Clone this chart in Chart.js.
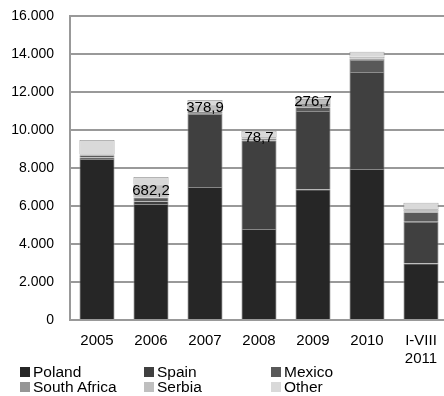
<!DOCTYPE html>
<html>
<head>
<meta charset="utf-8">
<script src="https://cdn.jsdelivr.net/npm/chart.js@4/dist/chart.umd.min.js"></script>
<style>
    html, body { margin: 0; padding: 0; background: #fff; overflow: hidden; }
    #wrap { position: relative; width: 448px; height: 396px; }
    #legend {
        position: absolute; left: 20px; top: 364px;
        display: grid; grid-template-columns: 124px 127px 120px;
        font: 15.5px "Liberation Sans", Arial, sans-serif; line-height: 15px; color: #000;
    }
    #legend span.box { display: inline-block; width: 10px; height: 10px; margin-right: 3px; }
</style>
</head>
<body>
<div id="wrap">
    <canvas id="chart" width="448" height="396"></canvas>
    <div id="legend"></div>
</div>
<script>
const years = ['2005', '2006', '2007', '2008', '2009', '2010', ['I-VIII', '2011']];

const poland      = [8470, 6100, 7000, 4790, 6877, 7950, 2980];
const spain       = [80, 150, 3850, 4660, 4123, 5100, 2190];
const mexico      = [120, 200, 118, 87, 200, 640, 500];
const southAfrica = [40, 0, 0, 0, 163, 70, 60];
const serbia      = [30, 682.2, 378.9, 78.7, 276.7, 100, 100];
const other       = [740, 394, 232, 347, 100, 260, 345];

const valueLabels = ['', '682,2', '378,9', '78,7', '276,7', '', ''];

const seriesNames = ['Poland', 'Spain', 'Mexico', 'South Africa', 'Serbia', 'Other'];
const seriesColors = ['#262626', '#404040', '#595959', '#969696', '#bfbfbf', '#d9d9d9'];
const seriesData = [poland, spain, mexico, southAfrica, serbia, other];

const font = 'Liberation Sans';

// labels sit on the middle of the Serbia piece
const serbiaLabels = {
    id: 'serbiaLabels',
    afterDatasetsDraw(chart) {
        const ctx = chart.ctx;
        const meta = chart.getDatasetMeta(4);
        ctx.save();
        ctx.font = '15px "' + font + '"';
        ctx.fillStyle = '#000';
        ctx.textAlign = 'center';
        ctx.textBaseline = 'middle';
        meta.data.forEach((bar, i) => {
            if (!valueLabels[i]) return;
            ctx.fillText(valueLabels[i], bar.x, (bar.y + bar.base) / 2);
        });
        ctx.restore();
    }
};

const chart = new Chart(document.getElementById('chart'), {
    type: 'bar',
    data: {
        labels: years,
        datasets: seriesNames.map((name, i) => ({
            label: name,
            data: seriesData[i],
            backgroundColor: seriesColors[i],
            borderColor: '#8c8c8c',
            borderWidth: 0.8,
            barPercentage: 0.65,
            categoryPercentage: 1
        }))
    },
    options: {
        responsive: false,
        animation: false,
        layout: {padding: {top: 16, left: 0, right: 0, bottom: 0}},
        plugins: {
            legend: {display: false},
            tooltip: {enabled: false}
        },
        scales: {
            x: {
                stacked: true,
                grid: {display: false, drawTicks: false},
                border: {display: true, color: '#999', width: 2},
                ticks: {
                    color: '#000',
                    padding: 12,
                    maxRotation: 0,
                    autoSkip: false,
                    font: {family: font, size: 15, lineHeight: 1.2}
                },
                afterFit(scale) {
                    scale.height = 396 - 320;
                    scale.paddingLeft = 0;
                    scale.paddingRight = 0;
                }
            },
            y: {
                stacked: true,
                min: 0,
                max: 16000,
                grid: {color: '#999', lineWidth: 2, drawTicks: false},
                border: {display: true, color: '#999', width: 2},
                ticks: {
                    stepSize: 2000,
                    color: '#000',
                    padding: 16,
                    font: {family: font, size: 14},
                    callback: v => v.toLocaleString('de-DE')
                },
                afterFit(scale) {
                    scale.width = 70;
                    scale.paddingTop = 0;
                    scale.paddingBottom = 0;
                }
            }
        }
    },
    plugins: [serbiaLabels]
});

const legendEl = document.getElementById('legend');
legendEl.innerHTML = seriesNames.map((name, i) =>
    `<div><span class="box" style="background:${seriesColors[i]}"></span>${name}</div>`
).join('');
</script>
</body>
</html>
